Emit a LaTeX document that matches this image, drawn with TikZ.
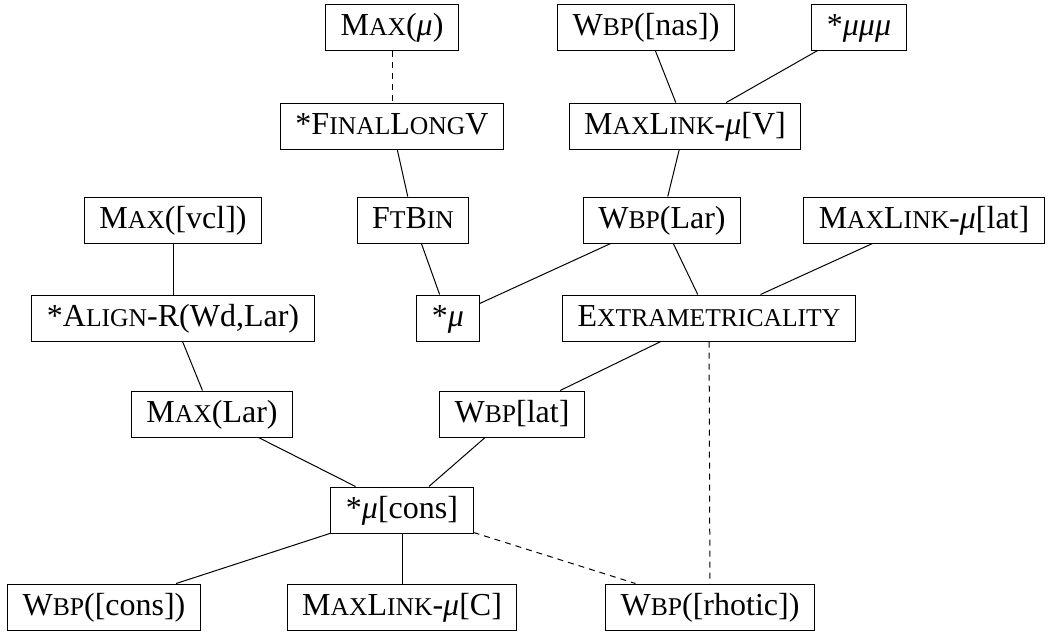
\documentclass[tikz,border=0pt]{standalone}
\usepackage{fontspec}
\setmainfont{Liberation Serif}
\newcommand{\fsc}[1]{{\fontsize{25.6pt}{30pt}\selectfont #1}}

\begin{document}
\begin{tikzpicture}[x=1pt,y=-1pt,
	box/.style={draw,line width=1pt,inner xsep=15pt,inner ysep=7pt,text height=24pt,text depth=8pt,font=\fontsize{32pt}{38pt}\selectfont},
	link/.style={line width=1pt},
	dashlink/.style={line width=1pt,dash pattern=on 6pt off 5pt}]
	\useasboundingbox (0,0) rectangle (1048,632);
	\node [box] (maxmu) at (392,27) {M\fsc{AX}(\textit{μ})};
	\node [box] (wbpnas) at (646,27) {W\fsc{BP}([nas])};
	\node [box] (mumumu) at (859,27) {*\textit{μμμ}};
	\node [box] (finallong) at (392,126) {*F\fsc{INAL}L\fsc{ONG}V};
	\node [box] (maxlinkv) at (685,126) {M\fsc{AX}L\fsc{INK}-\textit{μ}[V]};
	\node [box] (maxvcl) at (173,220) {M\fsc{AX}([vcl])};
	\node [box] (ftbin) at (413,220) {F\fsc{T}B\fsc{IN}};
	\node [box] (wbplar) at (662,220) {W\fsc{BP}(Lar)};
	\node [box] (maxlinklat) at (924,220) {M\fsc{AX}L\fsc{INK}-\textit{μ}[lat]};
	\node [box] (align) at (173,318) {*A\fsc{LIGN}-R(Wd,Lar)};
	\node [box] (mu) at (448,318) {*\textit{μ}};
	\node [box] (extra) at (709,318) {E\fsc{XTRAMETRICALITY}};
	\node [box] (maxlar) at (212,414) {M\fsc{AX}(Lar)};
	\node [box] (wbplat) at (512,414) {W\fsc{BP}[lat]};
	\node [box] (mucons) at (402,510) {*\textit{μ}[cons]};
	\node [box] (wbpcons) at (104,607) {W\fsc{BP}([cons])};
	\node [box] (maxlinkc) at (402,607) {M\fsc{AX}L\fsc{INK}-\textit{μ}[C]};
	\node [box] (wbprhotic) at (710,607) {W\fsc{BP}([rhotic])};
	\draw [dashlink] (maxmu) -- (finallong);
	\draw [link] (finallong) -- (ftbin);
	\draw [link] (wbpnas) -- (maxlinkv);
	\draw [link] (mumumu) -- (maxlinkv);
	\draw [link] (maxlinkv) -- (wbplar);
	\draw [link] (ftbin) -- (mu);
	\draw [link] (wbplar) -- (mu);
	\draw [link] (wbplar) -- (extra);
	\draw [link] (maxlinklat) -- (extra);
	\draw [link] (maxvcl) -- (align);
	\draw [link] (align) -- (maxlar);
	\draw [link] (extra) -- (wbplat);
	\draw [dashlink] (extra) -- (wbprhotic);
	\draw [link] (maxlar) -- (mucons);
	\draw [link] (wbplat) -- (mucons);
	\draw [link] (mucons) -- (wbpcons);
	\draw [link] (mucons) -- (maxlinkc);
	\draw [dashlink] (mucons) -- (wbprhotic);
\end{tikzpicture}
\end{document}
